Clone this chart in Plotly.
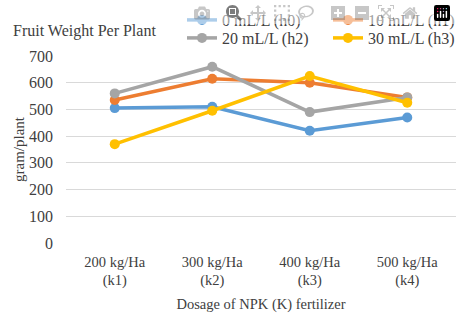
import plotly.graph_objects as go

categories = ["200 kg/Ha<br>(k1)", "300 kg/Ha<br>(k2)", "400 kg/Ha<br>(k3)", "500 kg/Ha<br>(k4)"]
series_names = ["0 mL/L (h0)", "10 mL/L (h1)", "20 mL/L (h2)", "30 mL/L (h3)"]
h0 = [505, 510, 420, 470]
h1 = [535, 615, 600, 545]
h2 = [560, 660, 490, 545]
h3 = [370, 495, 625, 525]
colors = ["#5b9bd5", "#ed7d31", "#a5a5a5", "#ffc000"]
y_ticks = [0, 100, 200, 300, 400, 500, 600, 700]

FONT = "Liberation Serif, Times New Roman, serif"
L, R, T, B = 66, 0, 56, 71
W, H = 456, 314
plot_w = W - L - R
plot_h = H - T - B

# legend slots: legend id, left x px, box middle y px (page coords, body margin removed)
legend_ids = ["legend", "legend2", "legend3", "legend4"]
leg_x = [182, 328, 182, 328]
leg_y = [20, 20, 38, 38]

fig = go.Figure()
for name, vals, c, lid in zip(series_names, [h0, h1, h2, h3], colors, legend_ids):
    fig.add_trace(go.Scatter(x=categories, y=vals, name=name, mode="lines+markers", legend=lid,
                             line=dict(color=c, width=3.5), marker=dict(color=c, size=10)))

leg_common = dict(orientation="h", xanchor="left", yanchor="middle", itemwidth=30,
                  font=dict(family=FONT, size=16, color="#404040"), bgcolor="rgba(0,0,0,0)")
layout_legends = {}
for lid, lx, ly in zip(legend_ids, leg_x, leg_y):
    layout_legends[lid] = dict(x=(lx - L) / plot_w, y=(H - B - ly) / plot_h, **leg_common)

fig.update_layout(
    width=W, height=H,
    margin=dict(l=L, r=R, t=T, b=B, autoexpand=False),
    paper_bgcolor="white", plot_bgcolor="white",
    font=dict(family=FONT, size=15, color="#404040"),
    title=dict(text="Fruit Weight Per Plant", x=13/W, xanchor="left", y=1-30/H, yanchor="middle",
               font=dict(family=FONT, size=16, color="#404040")),
    showlegend=True,
    **layout_legends,
)
fig.update_xaxes(range=[-0.5, 3.5], showgrid=False, showline=False, zeroline=False, ticks="",
                 ticklabelstandoff=8,
                 title=dict(text="Dosage of NPK (K) fertilizer", standoff=10, font=dict(size=14.5)),
                 tickfont=dict(size=14.5))
fig.update_yaxes(range=[0, 700], tickvals=y_ticks, showgrid=True, gridcolor="#d9d9d9", gridwidth=1,
                 zeroline=False, showline=False, ticks="", ticklabelstandoff=12,
                 title=dict(text="gram/plant", standoff=0, font=dict(size=15)), tickfont=dict(size=16))

post = ("document.body.style.margin='0';"
        "document.body.style.overflow='hidden';"
        "document.documentElement.style.overflow='hidden';")
fig.write_html("out.html", post_script=post)
